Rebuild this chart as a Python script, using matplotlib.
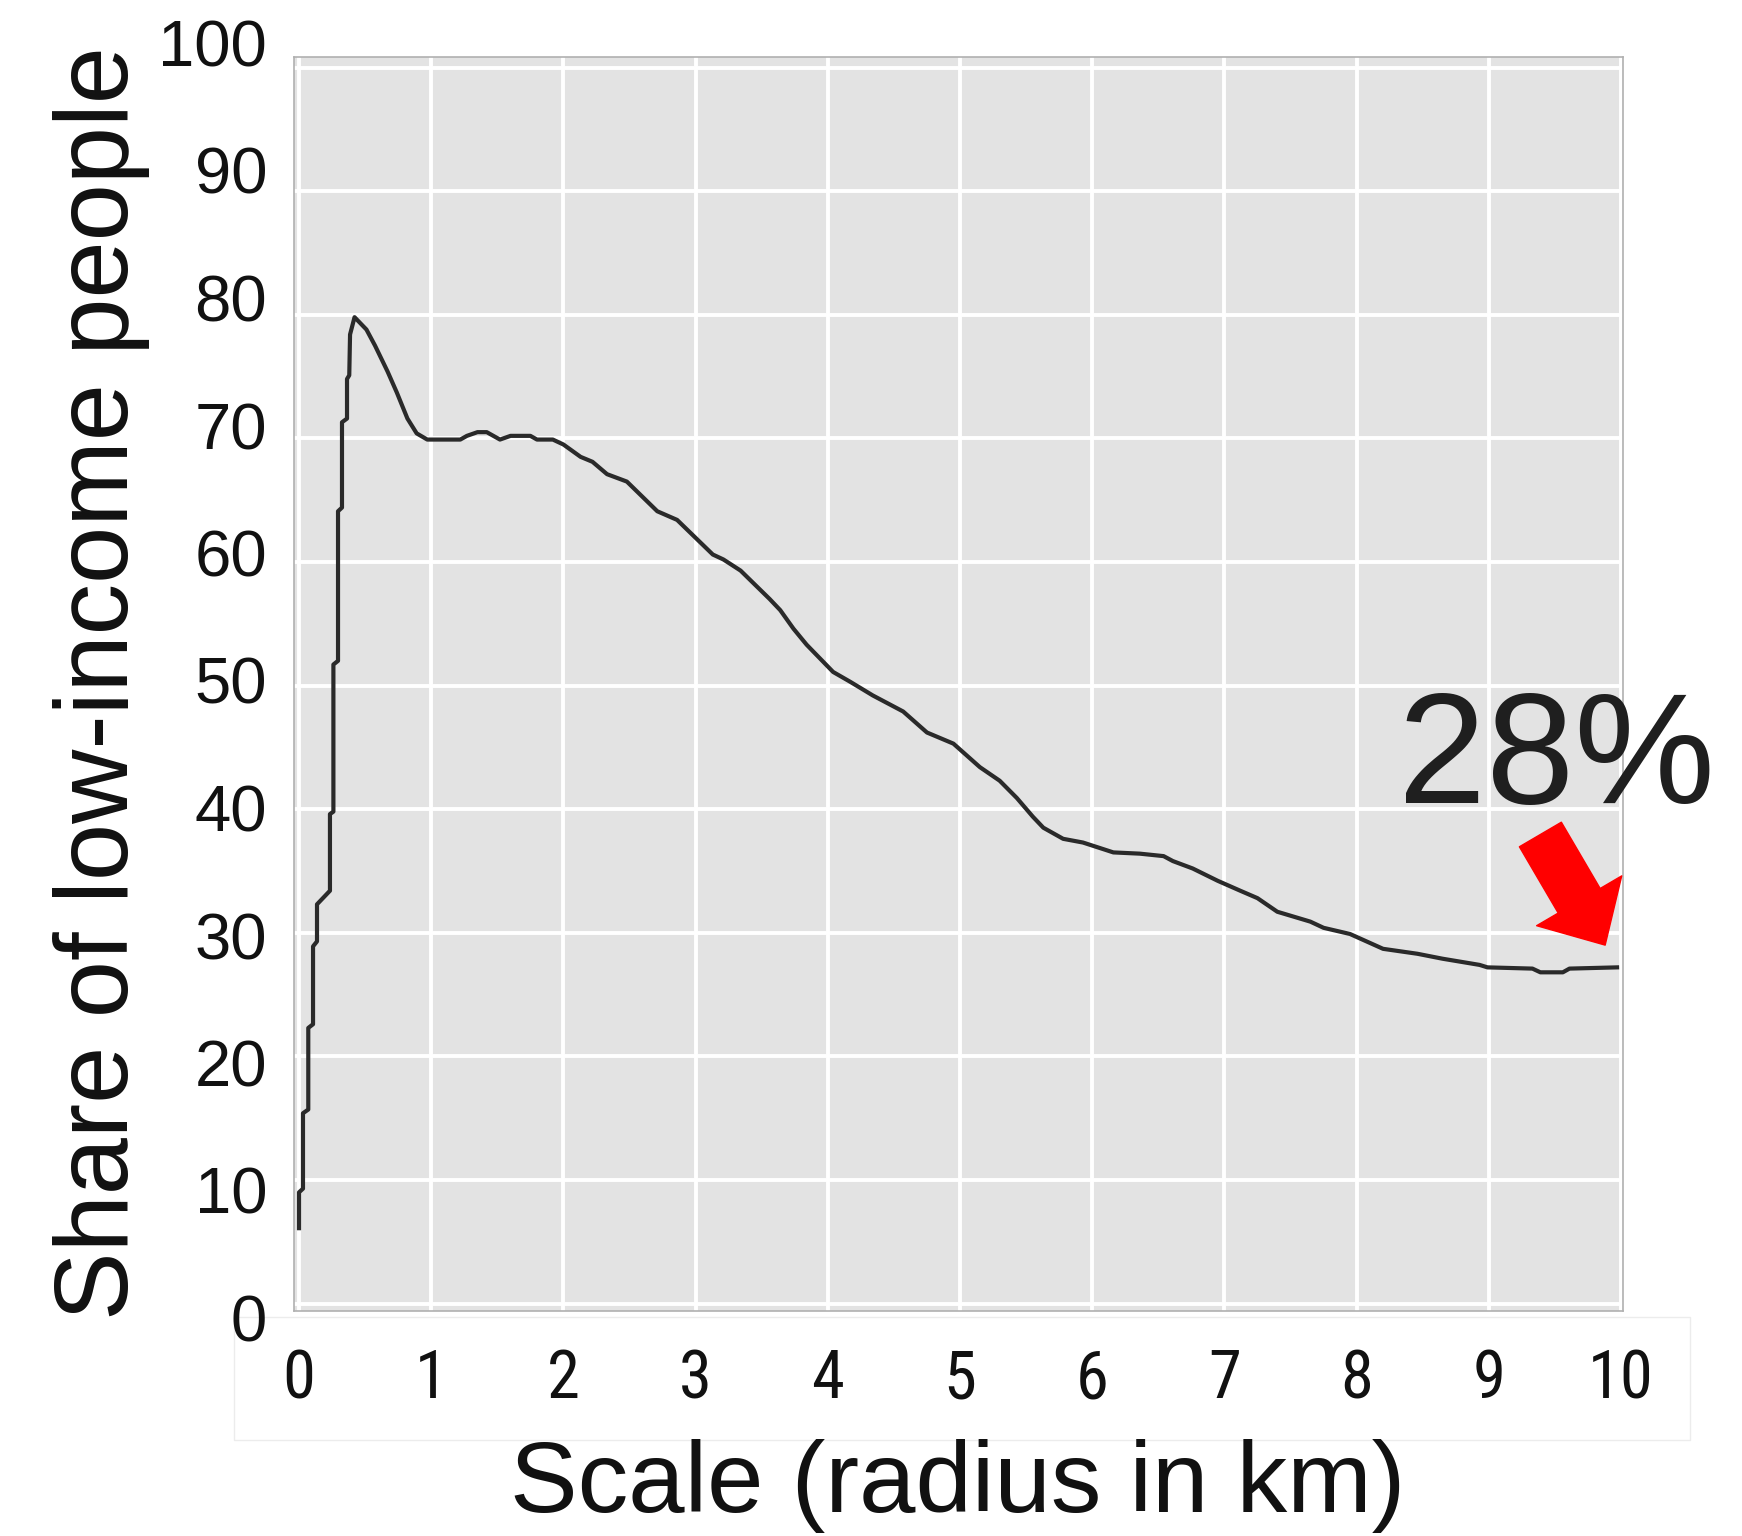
import matplotlib
matplotlib.use("Agg")
import matplotlib.pyplot as plt
from matplotlib import font_manager as fm
from matplotlib.patches import Rectangle

plt.rcParams['font.family'] = ['Liberation Sans', 'DejaVu Sans']

# curve (radius in km, share in %)
radius = [0.0, 0.0, 0.03, 0.03, 0.07, 0.07, 0.106, 0.106, 0.136, 0.136,
          0.234, 0.234, 0.26, 0.26, 0.295, 0.295, 0.325, 0.325, 0.363, 0.363,
          0.38, 0.386, 0.42, 0.51, 0.575, 0.67, 0.74, 0.82, 0.89, 0.97,
          1.22, 1.27, 1.35, 1.42, 1.52, 1.60, 1.75, 1.80, 1.92, 2.00,
          2.13, 2.22, 2.33, 2.48, 2.71, 2.86, 3.13, 3.21, 3.34, 3.56,
          3.64, 3.74, 3.84, 4.04, 4.17, 4.34, 4.57, 4.75, 4.95, 5.15,
          5.30, 5.43, 5.55, 5.63, 5.78, 5.93, 6.16, 6.36, 6.54, 6.61,
          6.76, 6.95, 7.12, 7.25, 7.40, 7.65, 7.75, 7.95, 8.20, 8.46,
          8.65, 8.93, 8.99, 9.33, 9.39, 9.56, 9.61, 9.97]
share = [6.1, 9.0, 9.3, 15.4, 15.7, 22.3, 22.6, 28.9, 29.3, 32.3,
         33.4, 39.6, 39.8, 51.7, 52.0, 64.1, 64.4, 71.3, 71.6, 74.8,
         75.1, 78.4, 79.8, 78.8, 77.5, 75.4, 73.7, 71.6, 70.4, 69.9,
         69.9, 70.2, 70.5, 70.5, 69.9, 70.2, 70.2, 69.9, 69.9, 69.5,
         68.5, 68.1, 67.1, 66.5, 64.1, 63.4, 60.6, 60.2, 59.3, 57.0,
         56.1, 54.6, 53.3, 51.1, 50.3, 49.2, 47.9, 46.2, 45.3, 43.4,
         42.3, 40.9, 39.4, 38.5, 37.6, 37.3, 36.5, 36.4, 36.2, 35.8,
         35.2, 34.2, 33.4, 32.8, 31.7, 30.9, 30.4, 29.9, 28.7, 28.3,
         27.9, 27.4, 27.2, 27.1, 26.8, 26.8, 27.1, 27.2]

x_ticks = list(range(0, 11))
y_ticks = list(range(0, 101, 10))
x_label = "Scale (radius in km)"
y_label = "Share of low-income people"
callout = "28%"
arrow_from = (9.39, 37.95)
arrow_to = (9.88, 29.0)


def narrow_font():
    # the x tick labels use a narrow face; take whichever condensed sans is installed
    prefs = ['Liberation Sans Narrow', 'Roboto Condensed', 'Open Sans Condensed',
             'Noto Sans Condensed', 'DejaVu Sans']
    found = {}
    for f in fm.fontManager.ttflist:
        narrow = ('Narrow' in f.name or 'Condensed' in f.name
                  or 'condensed' in str(f.stretch))
        if narrow and f.style == 'normal' and f.weight in (400, 'normal', 'regular'):
            found.setdefault(f.name, f.fname)
    for p in prefs:
        if p in found:
            return fm.FontProperties(fname=found[p], size=48)
    if found:
        return fm.FontProperties(fname=sorted(found.values())[0], size=48)
    return fm.FontProperties(family='Liberation Sans', size=46)


W, H = 1742, 1536
fig = plt.figure(figsize=(W / 100, H / 100), dpi=100)

# white strip behind the x tick labels
fig.add_artist(Rectangle((234 / W, 1 - 1440 / H), (1690 - 234) / W, 123 / H,
                         transform=fig.transFigure, facecolor='white',
                         edgecolor='#ececec', lw=1, zorder=-1))

ax = fig.add_axes([294 / W, 1 - 1311 / H, 1329 / W, 1254 / H])
ax.set_facecolor('#e3e3e3')
ax.plot(radius, share, color='#2a2a2a', lw=3.0, zorder=3)
ax.set_xlim(-0.038, 10.015)
ax.set_ylim(-0.6, 100.85)
ax.set_xticks(x_ticks)
ax.set_yticks(y_ticks)
ax.set_yticklabels([])
ax.grid(True, color='white', lw=2.8, zorder=1)
ax.set_axisbelow(True)
ax.tick_params(axis='both', length=0)
ax.tick_params(axis='x', pad=27)
fp = narrow_font()
for lab in ax.get_xticklabels():
    lab.set_fontproperties(fp)
    lab.set_color('#111111')
for s in ax.spines.values():
    s.set_color('#b0b0b0')
    s.set_linewidth(1.2)

ax.text(8.31, 40.5, callout, fontsize=114, color='#1f1f1f',
        ha='left', va='baseline', zorder=5)
ax.annotate('', xy=arrow_to, xytext=arrow_from,
            arrowprops=dict(arrowstyle='simple,head_length=37,head_width=71,tail_width=35',
                            color='#ff0000', shrinkA=0, shrinkB=0, mutation_scale=1),
            zorder=5)

# y tick labels sit on their own slightly taller scale, as in the reference
lab_ax = fig.add_axes([267 / W, 1 - 1318 / H, 0.001, 1275 / H])
lab_ax.set_ylim(0, 100)
lab_ax.set_yticks(y_ticks)
lab_ax.set_yticklabels([str(v) for v in y_ticks], fontsize=47, color='#111111')
lab_ax.set_xticks([])
lab_ax.tick_params(axis='y', length=0, pad=0)
lab_ax.patch.set_visible(False)
for s in lab_ax.spines.values():
    s.set_visible(False)

fig.text(128 / W, 1 - 683 / H, y_label, rotation=90, rotation_mode='anchor',
         ha='center', va='baseline', fontsize=74, color='#111111')
fig.text(958 / W, 1 - 1512 / H, x_label, ha='center', va='baseline',
         fontsize=73, color='#111111')

fig.savefig('out.png', dpi=100, facecolor='white')
